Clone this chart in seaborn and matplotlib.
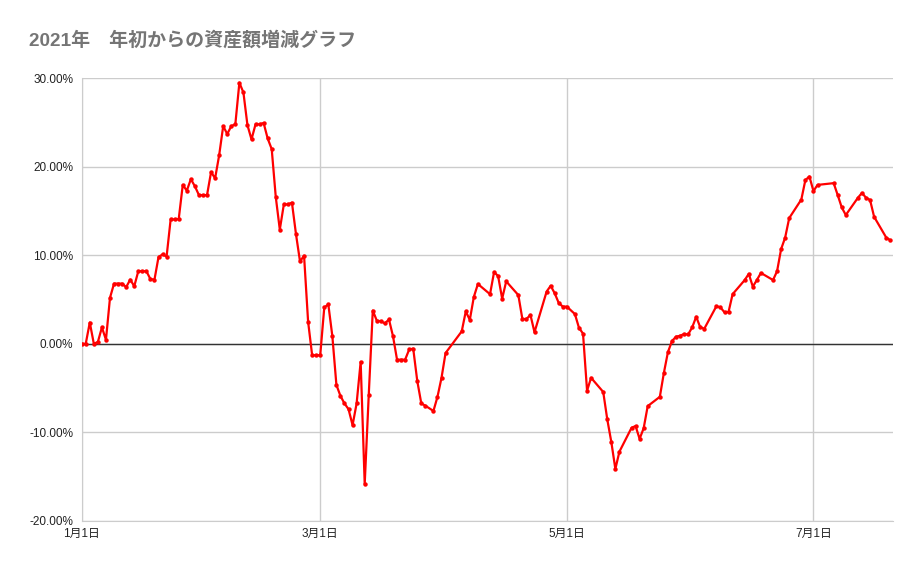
import numpy as np
import pandas as pd
import matplotlib
matplotlib.use("Agg")
import matplotlib.pyplot as plt
import matplotlib.dates as mdates
from matplotlib.ticker import PercentFormatter, FixedLocator, FixedFormatter
import seaborn as sns

# ---- data ----
title = "2021年\u3000年初からの資産額増減グラフ"
start_date = "2021-01-01"
day_offset = [
    0, 1, 2, 3, 4, 5, 6, 7, 8, 9, 10, 11, 12, 13, 14, 15, 16, 17, 18, 19,
    20, 21, 22, 23, 24, 25, 26, 27, 28, 29, 30, 31, 32, 33, 34, 35, 36, 37, 38, 39,
    40, 41, 42, 43, 44, 45, 46, 47, 48, 49, 50, 51, 52, 53, 54, 55, 56, 57, 58, 59,
    60, 61, 62, 63, 64, 65, 66, 67, 68, 69, 70, 71, 72, 73, 74, 75, 76, 77, 78, 79,
    80, 81, 82, 83, 84, 85, 87, 88, 89, 90, 94, 95, 96, 97, 98, 101, 102, 103, 104, 105,
    108, 109, 110, 111, 112, 115, 116, 117, 118, 119, 120, 122, 123, 124, 125, 126, 129, 130, 131, 132,
    133, 136, 137, 138, 139, 140, 143, 144, 145, 146, 147, 148, 149, 150, 151, 152, 153, 154, 157, 158,
    159, 160, 161, 164, 165, 166, 167, 168, 171, 172, 173, 174, 175, 178, 179, 180, 181, 182, 186, 187,
    188, 189, 192, 193, 194, 195, 196, 199, 200,
]
change_pct = [
    0.0, 0.0, 2.4, 0.0, 0.2, 1.85, 0.45, 5.2, 6.8, 6.8, 6.8, 6.4, 7.25, 6.5, 8.2, 8.2, 8.2, 7.3, 7.25, 9.8,
    10.1, 9.85, 14.05, 14.05, 14.1, 17.95, 17.3, 18.6, 17.8, 16.8, 16.8, 16.8, 19.4, 18.7, 21.3, 24.6, 23.7, 24.6, 24.8, 29.5,
    28.4, 24.7, 23.1, 24.8, 24.8, 24.95, 23.2, 22.0, 16.6, 12.9, 15.75, 15.75, 15.95, 12.4, 9.3, 9.95, 2.5, -1.3, -1.3, -1.3,
    4.1, 4.45, 0.85, -4.65, -5.9, -6.75, -7.4, -9.2, -6.75, -2.05, -15.85, -5.8, 3.75, 2.6, 2.55, 2.3, 2.75, 0.85, -1.8, -1.8,
    -1.8, -0.65, -0.55, -4.2, -6.75, -7.0, -7.6, -6.0, -3.85, -1.05, 1.4, 3.65, 2.7, 5.3, 6.75, 5.6, 8.1, 7.65, 5.1, 7.05,
    5.5, 2.8, 2.8, 3.25, 1.3, 5.9, 6.55, 5.7, 4.6, 4.2, 4.2, 3.35, 1.8, 1.15, -5.3, -3.85, -5.45, -8.55, -11.1, -14.15,
    -12.2, -9.5, -9.3, -10.75, -9.55, -7.05, -6.0, -3.3, -0.95, 0.3, 0.8, 0.9, 1.1, 1.05, 1.85, 3.05, 1.85, 1.7, 4.25, 4.1,
    3.55, 3.6, 5.6, 7.2, 7.9, 6.45, 7.2, 8.0, 7.2, 8.2, 10.7, 12.0, 14.2, 16.3, 18.5, 18.9, 17.25, 17.95, 18.15, 16.8,
    15.4, 14.55, 16.5, 17.05, 16.5, 16.25, 14.35, 12.0, 11.7,
]
x_tick_dates = ["2021-01-01", "2021-03-01", "2021-05-01", "2021-07-01"]
x_tick_labels = ["1月1日", "3月1日", "5月1日", "7月1日"]
y_ticks = [-20, -10, 0, 10, 20, 30]

# ---- build frame ----
dates = pd.Timestamp(start_date) + pd.to_timedelta(day_offset, unit="D")
df = pd.DataFrame({"date": dates, "change": change_pct})

sns.set_style("white")
plt.rcParams["font.family"] = ["Liberation Sans", "Noto Sans CJK JP", "DejaVu Sans"]
plt.rcParams["axes.unicode_minus"] = False

fig = plt.figure(figsize=(9.21, 5.69), dpi=100)
ax = fig.add_axes([81.7 / 921, (569 - 520.7) / 569, (892.7 - 81.7) / 921, (520.7 - 78.3) / 569])

sns.lineplot(data=df, x="date", y="change", ax=ax, color="#ff0000", linewidth=1.6,
             marker="o", markersize=3.2, markeredgewidth=0, zorder=5)

x0 = pd.Timestamp(start_date)
ax.set_xlim(x0, x0 + pd.Timedelta(days=200.6))
ax.set_ylim(-20, 30)

ax.yaxis.set_major_locator(FixedLocator(y_ticks))
ax.yaxis.set_major_formatter(PercentFormatter(100, decimals=2))
tick_nums = [mdates.date2num(pd.Timestamp(d)) for d in x_tick_dates]
ax.xaxis.set_major_locator(FixedLocator(tick_nums))
ax.xaxis.set_major_formatter(FixedFormatter(x_tick_labels))

ax.grid(True, color="#cccccc", linewidth=1.0)
ax.axhline(0, color="#333333", linewidth=1.0, zorder=3)
for s in ["top", "right"]:
    ax.spines[s].set_visible(False)
ax.spines["left"].set_color("#cccccc")
ax.spines["bottom"].set_color("#cccccc")
ax.tick_params(axis="both", length=0, labelsize=8.5, colors="#222222")
ax.tick_params(axis="y", pad=6)
ax.tick_params(axis="x", pad=5)
ax.set_xlabel("")
ax.set_ylabel("")

fig.text(29 / 921, 1 - 40 / 569, title, ha="left", va="center", fontsize=13.7,
         fontweight="bold", color="#757575")

fig.savefig("out.png", dpi=100, facecolor="white")
